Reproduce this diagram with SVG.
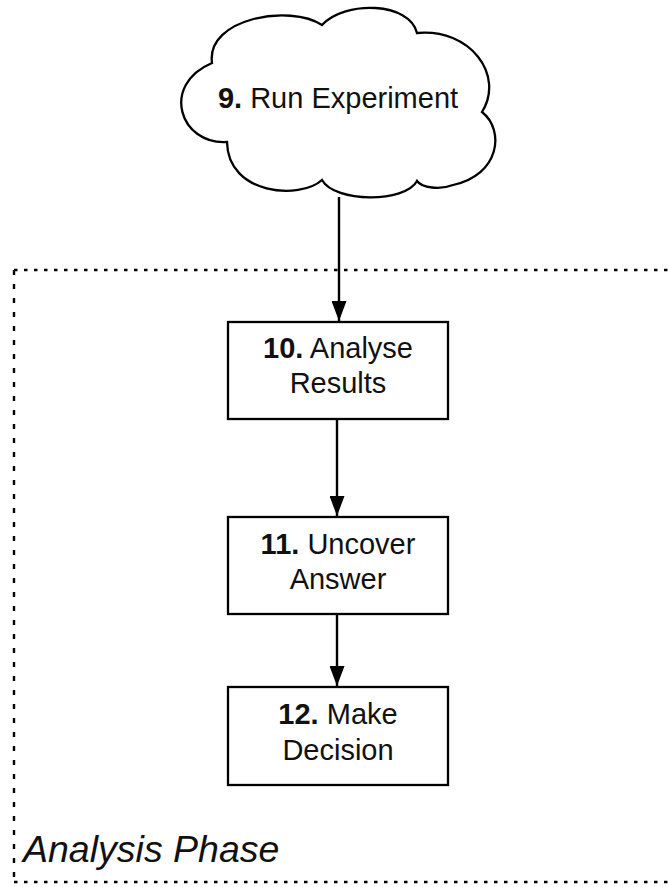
<svg xmlns="http://www.w3.org/2000/svg" width="668" height="887" viewBox="0 0 668 887">
<style>
.box{fill:#fff;stroke:#000;stroke-width:2.3}
.t{font-family:"Liberation Sans",Arial,sans-serif;font-size:29px;fill:#111;text-anchor:middle}
.b{font-weight:bold}
.edge{stroke:#000;stroke-width:2.4;fill:none}
.dot{stroke:#000;stroke-width:2.4;fill:none}
</style>
<defs>
<marker id="ah" markerWidth="20" markerHeight="15" refX="20" refY="7.5" orient="auto" markerUnits="userSpaceOnUse" viewBox="0 0 20 15">
<path d="M0,0 L20,7.5 L0,15 Z" fill="#000"/>
</marker>
</defs>
<g id="phase">
<line class="dot" x1="14" y1="270" x2="668" y2="270" stroke-dasharray="3.5 6.5"/>
<line class="dot" x1="14" y1="882" x2="668" y2="882" stroke-dasharray="3.5 6.5"/>
<line class="dot" x1="14" y1="270" x2="14" y2="882" stroke-dasharray="5 9"/>
<text x="23" y="862" style="font-family:'Liberation Sans',Arial,sans-serif;font-size:37.5px;font-style:italic;fill:#111">Analysis Phase</text>
</g>
<g id="connectors">
<line class="edge" x1="339" y1="197" x2="339" y2="321" marker-end="url(#ah)"/>
<line class="edge" x1="337" y1="419" x2="337" y2="516" marker-end="url(#ah)"/>
<line class="edge" x1="337" y1="614" x2="337" y2="686" marker-end="url(#ah)"/>
</g>
<g id="n9">
<path class="box" d="M212,63 C206,18 290,4 322,25 C345,0 410,2 417,33 C470,28 505,75 482,112 C505,130 500,175 453,185 C440,190 422,188 417,181 C405,203 335,203 322,180 C300,200 228,195 227,142 C180,145 160,85 212,63 Z"/>
<text class="t" x="338" y="108"><tspan class="b">9.</tspan> Run Experiment</text>
</g>
<g id="n10">
<rect class="box" x="228" y="322" width="220" height="97"/>
<text class="t" x="338" y="358"><tspan class="b">10.</tspan> Analyse</text>
<text class="t" x="338" y="393">Results</text>
</g>
<g id="n11">
<rect class="box" x="228" y="517" width="220" height="97"/>
<text class="t" x="338" y="554"><tspan class="b">11.</tspan> Uncover</text>
<text class="t" x="338" y="589">Answer</text>
</g>
<g id="n12">
<rect class="box" x="228" y="687" width="220" height="98"/>
<text class="t" x="338" y="724"><tspan class="b">12.</tspan> Make</text>
<text class="t" x="338" y="760">Decision</text>
</g>
</svg>
